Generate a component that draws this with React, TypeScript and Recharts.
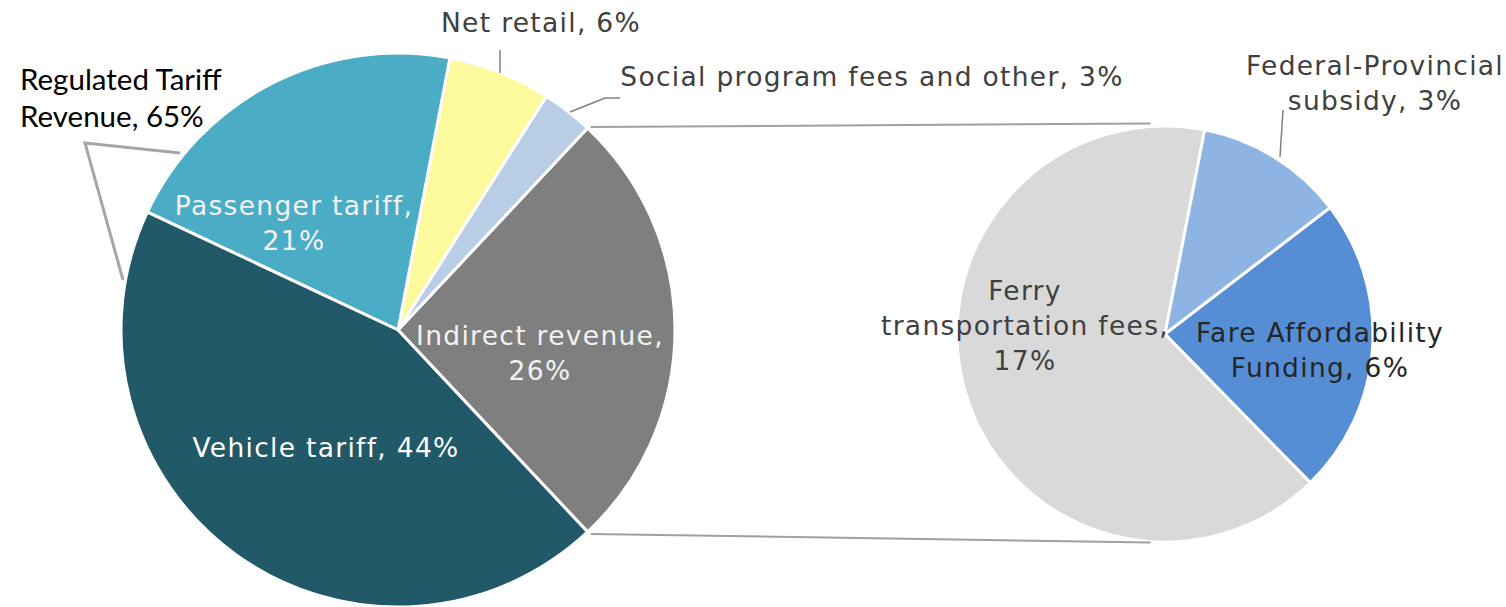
import React from 'react';
import { PieChart, Pie, Cell } from 'recharts';

// ---------- data ----------
const mainCategories = ['Indirect revenue', 'Social program fees and other', 'Net retail', 'Passenger tariff', 'Vehicle tariff'];
const mainValues = [26, 3, 6, 21, 44];
// word indices (in "Name, value%") after which the label wraps
const mainBreaks = [[1], [], [], [1], []];

const subCategories = ['Ferry transportation fees', 'Fare Affordability Funding', 'Federal-Provincial subsidy'];
const subValues = [17, 6, 3];
const subBreaks = [[0, 2], [1], [0]];

const regulatedLines = ['Regulated Tariff', 'Revenue'];
const regulatedValue = 65;

// ---------- styles / layout ----------
const W = 1506;
const H = 607;
const mainColors = ['#7f7f7f', '#b9cde5', '#fdfa9d', '#4bacc6', '#215968'];
const subColors = ['#d9d9d9', '#558ed5', '#8eb4e3'];
const mainTextColors = ['#f2f2f2', '#404040', '#404040', '#f2f2f2', '#ffffff'];
const subTextColors = ['#404040', '#262626', '#404040'];

const MAIN = { cx: 398, cy: 330, r: 277 };
const SUB = { cx: 1165, cy: 334, r: 208 };
const splitIndex = 0; // the "Indirect revenue" slice is broken out
const mainTotal = mainValues.reduce((a, b) => a + b, 0);
const splitHalf = (mainValues[splitIndex] / mainTotal) * 180;
const mainStart = -splitHalf;
const subStart = 79;

// label offsets from pie centre (first line visual centre)
const mainLabelPos = [
  { dx: 142, dy: 5 },
  { dx: 474, dy: -254 },
  { dx: 143, dy: -308 },
  { dx: -104, dy: -125 },
  { dx: -72, dy: 117 },
];
const subLabelPos = [
  { dx: -140, dy: -44 },
  { dx: 155, dy: -2 },
  { dx: 210, dy: -269 },
];

const FONT = "'DejaVu Sans', Verdana, sans-serif";
const FONT_SIZE = 26.5;
const LETTER_SP = 1.3;
const LINE_H = 35;

const mainData = mainCategories.map((name, i) => ({ name, value: mainValues[i] }));
const subData = subCategories.map((name, i) => ({ name, value: subValues[i] }));

function wrap(name: string, value: number, breaks: number[]): string[] {
  const words = `${name}, ${value}%`.split(' ');
  const lines: string[] = [];
  let cur: string[] = [];
  words.forEach((w, i) => {
    cur.push(w);
    if (breaks.includes(i) || i === words.length - 1) {
      lines.push(cur.join(' '));
      cur = [];
    }
  });
  return lines;
}

const makeLabel = (cats: string[], vals: number[], breaks: number[][], pos: { dx: number; dy: number }[], colors: string[]) =>
  (props: any) => {
    const { cx, cy, index } = props;
    const lines = wrap(cats[index], vals[index], breaks[index]);
    const p = pos[index];
    return (
      <g key={`lbl-${index}`}>
        {lines.map((ln, k) => (
          <text
            key={k}
            x={cx + p.dx}
            y={cy + p.dy + k * LINE_H}
            textAnchor="middle"
            dominantBaseline="central"
            fontFamily={FONT}
            fontSize={FONT_SIZE}
            letterSpacing={LETTER_SP}
            fill={colors[index]}
          >
            {ln}
          </text>
        ))}
      </g>
    );
  };

function polar(c: { cx: number; cy: number }, r: number, deg: number) {
  const a = (deg * Math.PI) / 180;
  return { x: c.cx + r * Math.cos(a), y: c.cy - r * Math.sin(a) };
}

export default function App() {
  const topA = polar(MAIN, MAIN.r, mainStart + (mainValues[splitIndex] / mainTotal) * 360);
  const botA = polar(MAIN, MAIN.r, mainStart);
  const topB = polar(SUB, SUB.r, 94);
  const botB = polar(SUB, SUB.r, 266);
  const regLines = [regulatedLines[0], `${regulatedLines[1]}, ${regulatedValue}%`];
  return (
    <div style={{ position: 'absolute', left: 0, top: 0, width: W, height: H, background: '#fff' }}>
      <div style={{ position: 'absolute', left: 0, top: 0 }}>
        <PieChart width={W} height={H} margin={{ top: 0, right: 0, bottom: 0, left: 0 }}>
          <Pie
            data={mainData}
            dataKey="value"
            nameKey="name"
            cx={MAIN.cx}
            cy={MAIN.cy}
            outerRadius={MAIN.r}
            startAngle={mainStart}
            endAngle={mainStart + 360}
            stroke="#ffffff"
            strokeWidth={3}
            isAnimationActive={false}
            labelLine={false}
            label={makeLabel(mainCategories, mainValues, mainBreaks, mainLabelPos, mainTextColors)}
          >
            {mainData.map((d, i) => (
              <Cell key={d.name} fill={mainColors[i]} />
            ))}
          </Pie>
          <Pie
            data={subData}
            dataKey="value"
            nameKey="name"
            cx={SUB.cx}
            cy={SUB.cy}
            outerRadius={SUB.r}
            startAngle={subStart}
            endAngle={subStart + 360}
            stroke="#ffffff"
            strokeWidth={3}
            isAnimationActive={false}
            labelLine={false}
            label={makeLabel(subCategories, subValues, subBreaks, subLabelPos, subTextColors)}
          >
            {subData.map((d, i) => (
              <Cell key={d.name} fill={subColors[i]} />
            ))}
          </Pie>
        </PieChart>
      </div>
      <svg width={W} height={H} style={{ position: 'absolute', left: 0, top: 0, pointerEvents: 'none' }}>
        <line x1={topA.x + 3} y1={topA.y - 1} x2={topB.x} y2={topB.y - 3} stroke="#a0a0a0" strokeWidth={2} />
        <line x1={botA.x + 3} y1={botA.y + 2} x2={botB.x} y2={botB.y + 1} stroke="#a0a0a0" strokeWidth={2} />
        <polyline points="180,153 85,143 123,280" fill="none" stroke="#a6a6a6" strokeWidth={3} />
        <line x1={500} y1={50} x2={500} y2={73} stroke="#808080" strokeWidth={1.5} />
        <polyline points="570,112 605,98 620,98" fill="none" stroke="#808080" strokeWidth={1.5} />
        <line x1={1283} y1={110} x2={1280} y2={157} stroke="#808080" strokeWidth={1.5} />
        {regLines.map((ln, k) => (
          <text key={k} x={20} y={78 + k * 37} dominantBaseline="central" fontFamily="Lato, 'Liberation Sans', sans-serif" fontSize={29.5} fill="#000">
            {ln}
          </text>
        ))}
      </svg>
    </div>
  );
}
